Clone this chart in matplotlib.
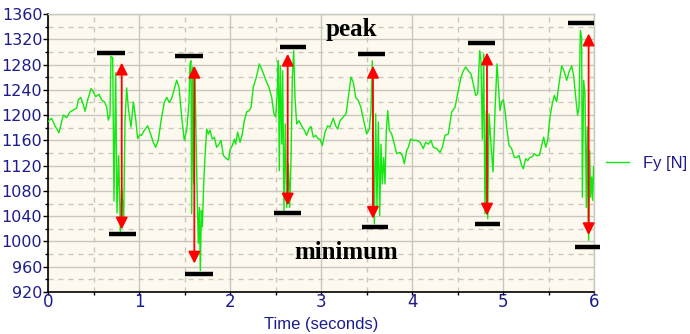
import matplotlib

matplotlib.use("Agg")
import matplotlib.pyplot as plt
from matplotlib.ticker import MultipleLocator

GREEN = "#10e810"
RED = "#ff0000"
NAVY = "#1c1c8c"
GRID = "#c9c6be"
BG = "#fdf9ee"

# Fy [N] signal: time (s) and force (N)
time_s = [
    0.000, 0.040, 0.077, 0.121, 0.150, 0.168, 0.205, 0.242, 0.278, 0.315,
    0.333, 0.359, 0.388, 0.407, 0.436, 0.473, 0.498, 0.524, 0.560, 0.590,
    0.619, 0.645, 0.663, 0.681, 0.692, 0.711, 0.725, 0.744, 0.758, 0.777,
    0.795, 0.810, 0.832, 0.846, 0.864, 0.883, 0.912, 0.938, 0.963, 0.985,
    1.011, 1.029, 1.059, 1.095, 1.121, 1.157, 1.183, 1.212, 1.242, 1.278,
    1.304, 1.333, 1.359, 1.388, 1.414, 1.440, 1.469, 1.498, 1.524, 1.549,
    1.560, 1.571, 1.579, 1.590, 1.601, 1.615, 1.630, 1.641, 1.652, 1.663,
    1.674, 1.685, 1.696, 1.711, 1.725, 1.744, 1.762, 1.780, 1.806, 1.828,
    1.853, 1.879, 1.901, 1.927, 1.963, 1.985, 2.000, 2.026, 2.048, 2.062,
    2.084, 2.110, 2.135, 2.157, 2.183, 2.209, 2.231, 2.256, 2.293, 2.322,
    2.348, 2.377, 2.403, 2.428, 2.458, 2.483, 2.502, 2.520, 2.531, 2.542,
    2.553, 2.568, 2.579, 2.593, 2.608, 2.623, 2.641, 2.656, 2.670, 2.685,
    2.700, 2.714, 2.733, 2.758, 2.787, 2.817, 2.842, 2.868, 2.890, 2.916,
    2.941, 2.971, 2.989, 3.015, 3.044, 3.073, 3.099, 3.135, 3.161, 3.183,
    3.209, 3.245, 3.275, 3.300, 3.330, 3.355, 3.381, 3.410, 3.439, 3.465,
    3.502, 3.531, 3.549, 3.564, 3.575, 3.586, 3.601, 3.615, 3.630, 3.645,
    3.659, 3.674, 3.689, 3.703, 3.718, 3.733, 3.751, 3.777, 3.806, 3.831,
    3.868, 3.894, 3.916, 3.941, 3.960, 3.985, 4.015, 4.051, 4.088, 4.124,
    4.150, 4.179, 4.209, 4.234, 4.271, 4.308, 4.333, 4.363, 4.399, 4.436,
    4.472, 4.502, 4.538, 4.564, 4.590, 4.619, 4.648, 4.674, 4.700, 4.722,
    4.744, 4.758, 4.773, 4.788, 4.802, 4.817, 4.832, 4.846, 4.868, 4.890,
    4.912, 4.934, 4.967, 4.985, 5.004, 5.022, 5.040, 5.066, 5.095, 5.124,
    5.150, 5.176, 5.205, 5.223, 5.249, 5.271, 5.297, 5.322, 5.344, 5.370,
    5.399, 5.425, 5.447, 5.469, 5.491, 5.516, 5.542, 5.564, 5.590, 5.615,
    5.645, 5.670, 5.700, 5.725, 5.754, 5.777, 5.799, 5.820, 5.835, 5.850,
    5.864, 5.872, 5.886, 5.901, 5.916, 5.927, 5.941, 5.952, 5.963, 5.974,
    5.985, 5.996,
]
fy_n = [
    1190, 1195, 1183, 1172, 1190, 1200, 1196, 1205, 1208, 1211,
    1224, 1228, 1216, 1206, 1224, 1242, 1237, 1229, 1233, 1224,
    1221, 1213, 1192, 1200, 1293, 1291, 1064, 1267, 1045, 1136,
    1016, 1083, 1035, 1190, 1243, 1211, 1181, 1221, 1195, 1163,
    1169, 1168, 1176, 1183, 1173, 1157, 1149, 1160, 1191, 1220,
    1228, 1220, 1226, 1241, 1255, 1244, 1197, 1160, 1176, 1218,
    1281, 1286, 1044, 1276, 1091, 1260, 1144, 1060, 997, 1054,
    954, 1049, 1023, 1091, 1133, 1178, 1170, 1176, 1162, 1165,
    1149, 1154, 1160, 1136, 1131, 1129, 1145, 1152, 1162, 1154,
    1173, 1157, 1170, 1191, 1205, 1207, 1212, 1244, 1262, 1281,
    1273, 1262, 1252, 1244, 1228, 1202, 1197, 1239, 1286, 1112,
    1278, 1154, 1270, 1049, 1186, 1054, 1123, 1054, 1128, 1260,
    1302, 1228, 1186, 1191, 1183, 1176, 1168, 1178, 1182, 1165,
    1168, 1162, 1162, 1152, 1173, 1183, 1181, 1195, 1183, 1178,
    1191, 1197, 1202, 1228, 1260, 1252, 1228, 1223, 1212, 1194,
    1170, 1178, 1207, 1286, 1128, 1028, 1202, 1054, 1189, 1041,
    1154, 1091, 1133, 1091, 1176, 1207, 1176, 1170, 1154, 1139,
    1141, 1136, 1123, 1144, 1149, 1162, 1160, 1160, 1157, 1147,
    1157, 1154, 1160, 1149, 1147, 1141, 1149, 1168, 1170, 1205,
    1212, 1234, 1260, 1270, 1276, 1270, 1265, 1249, 1231, 1234,
    1302, 1286, 1162, 1297, 1044, 1207, 1036, 1202, 1154, 1110,
    1207, 1281, 1207, 1221, 1224, 1207, 1181, 1152, 1147, 1133,
    1133, 1136, 1120, 1115, 1131, 1128, 1133, 1134, 1139, 1136,
    1136, 1152, 1165, 1149, 1160, 1197, 1218, 1231, 1221, 1249,
    1278, 1270, 1255, 1268, 1278, 1262, 1228, 1200, 1212, 1334,
    1323, 1070, 1255, 1234, 1054, 1181, 1002, 1144, 1070, 1102,
    1065, 1118,
]

# red double arrows: time, lower tip, upper tip
arrow_t = [0.81, 1.608, 2.634, 3.571, 4.824, 5.941]
arrow_low = [1019, 965, 1057, 1036, 1041, 1010]
arrow_high = [1283, 1278, 1297, 1278, 1299, 1329]

# black marker bars: start, end, level
peak_start = [0.54, 1.40, 2.55, 3.41, 4.62, 5.71]
peak_end = [0.85, 1.70, 2.84, 3.70, 4.91, 6.00]
peak_level = [1298, 1293, 1308, 1297, 1314, 1345]
min_start = [0.67, 1.50, 2.48, 3.45, 4.69, 5.79]
min_end = [0.97, 1.81, 2.78, 3.74, 4.97, 6.07]
min_level = [1012, 949, 1045, 1023, 1027, 992]

fig = plt.figure(figsize=(6.9, 3.34), dpi=100)
ax = fig.add_axes([48 / 690, 42 / 334, 546 / 690, 278 / 334])
ax.set_facecolor(BG)

ax.plot(time_s, fy_n, color=GREEN, linewidth=1.0, label="Fy [N]", zorder=3)

for t, lo, hi in zip(arrow_t, arrow_low, arrow_high):
    ax.annotate(
        "", xy=(t, hi), xytext=(t, lo),
        arrowprops=dict(arrowstyle="<|-|>,head_length=0.6,head_width=0.3",
                        color=RED, lw=1.3, mutation_scale=12,
                        shrinkA=0, shrinkB=0),
        zorder=4,
    )

ax.hlines(peak_level, peak_start, peak_end, color="black", linewidth=3.2,
          zorder=5, clip_on=False)
ax.hlines(min_level, min_start, min_end, color="black", linewidth=3.2,
          zorder=5, clip_on=False)

serif = ["Liberation Serif", "DejaVu Serif"]
ax.text(3.33, 1336, "peak", family=serif, fontweight="bold", fontsize=18,
        ha="center", va="center", zorder=6)
ax.text(3.28, 983, "minimum", family=serif, fontweight="bold", fontsize=18,
        ha="center", va="center", zorder=6)

ax.set_xlim(0, 6)
ax.set_ylim(920, 1360)
ax.xaxis.set_major_locator(MultipleLocator(1))
ax.xaxis.set_minor_locator(MultipleLocator(0.5))
ax.yaxis.set_major_locator(MultipleLocator(40))
ax.yaxis.set_minor_locator(MultipleLocator(20))

ax.grid(which="major", color=GRID, linewidth=1.0, linestyle="-")
ax.grid(which="minor", color=GRID, linewidth=1.0, linestyle=(0, (3.6, 3.6)))
ax.set_axisbelow(True)

for side in ("top", "right"):
    ax.spines[side].set_color(GRID)
    ax.spines[side].set_linewidth(1.0)
for side in ("left", "bottom"):
    ax.spines[side].set_color("black")
    ax.spines[side].set_linewidth(1.2)

sans = ["Liberation Sans", "DejaVu Sans"]
ax.tick_params(which="minor", direction="out", length=2.2, width=1,
               colors="black")
ax.tick_params(axis="y", which="major", direction="out", length=3.6, width=1,
               colors="black", labelcolor=NAVY, labelsize=11.5, pad=0.5)
ax.tick_params(axis="x", which="major", direction="out", length=2.5, width=1,
               colors="black", labelcolor=NAVY, labelsize=12, pad=-1.5)
for lab in ax.get_yticklabels():
    lab.set_family(["DejaVu Sans"])
for lab in ax.get_xticklabels():
    lab.set_family(["DejaVu Sans"])

ax.set_xlabel("Time (seconds)", color=NAVY, fontsize=12, family=sans,
              labelpad=4)

ax.legend(loc="center left", bbox_to_anchor=(558 / 546, 0.464),
          frameon=False, borderaxespad=0, borderpad=0, handlelength=1.4,
          handletextpad=0.8, prop={"family": sans, "size": 12},
          labelcolor=NAVY)

fig.savefig("out.png", dpi=100)
plt.close(fig)
